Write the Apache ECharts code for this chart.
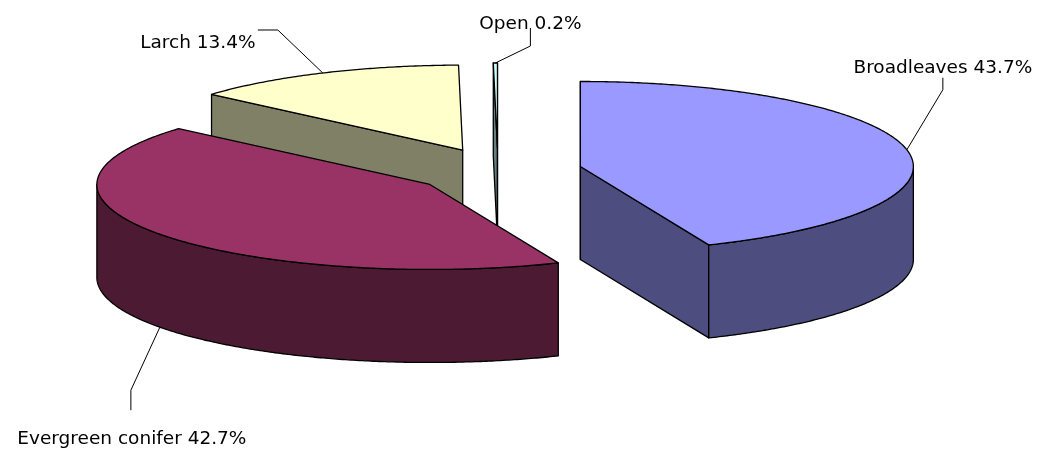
<!DOCTYPE html>
<html>
<head>
<meta charset="utf-8">
<script src="https://cdn.jsdelivr.net/npm/echarts@6/dist/echarts.min.js"></script>
<style>
html,body{margin:0;padding:0;background:#fff;}
#chart{width:1040px;height:452px;}
</style>
</head>
<body>
<div id="chart"></div>
<script>
// ---- data ----
const categories = ['Broadleaves', 'Evergreen conifer', 'Larch', 'Open'];
const shares = [43.7, 42.7, 13.4, 0.2];

// ---- styles ----
const topColors = ['#9999FF', '#993366', '#FFFFCC', '#CCFFFF'];
const sideColors = ['#4D4D80', '#4D1A33', '#808066', '#668080'];

// ---- layout (pixels) ----
const G = { cx: 498, cy: 171, rx: 333, ry: 85, depth: 93, ex: 84, ey: 23 };
// leader line: elbow offset from anchor, end offset from elbow, text offset from end
const labelLayout = [
  { elbow: [36, -60], end: [0, -12], text: [0, -10], align: 'center' },
  { elbow: [-29, 63], end: [0, 20], text: [1, 29], align: 'center' },
  { elbow: [-45, -43], end: [-20, 0], text: [-60, 13], align: 'center' },
  { elbow: [35, -17], end: [0, -18], text: [0, -4], align: 'center' }
];
const FONT = '18.5px "DejaVu Sans", Verdana, sans-serif';

const total = shares.reduce((a, b) => a + b, 0);

function geom(i) {
  let before = 0;
  for (let k = 0; k < i; k++) before += shares[k];
  const s = before / total * Math.PI * 2;
  const e = (before + shares[i]) / total * Math.PI * 2;
  const m = (s + e) / 2;
  const cx = G.cx + G.ex * Math.sin(m);
  const cy = G.cy - G.ey * Math.cos(m);
  return { s, e, m, cx, cy };
}

const geoms = shares.map((_, i) => geom(i));
const order = geoms.map((g, i) => i).sort((a, b) => geoms[a].cy - geoms[b].cy);
const rankOf = [];
order.forEach((idx, r) => { rankOf[idx] = r; });

function renderItem(params, api) {
  const i = params.dataIndex;
  const g = geoms[i];
  const P = (a, dz) => [g.cx + G.rx * Math.sin(a), g.cy - G.ry * Math.cos(a) + (dz || 0)];
  const arc = (a0, a1, dz) => {
    const n = Math.max(2, Math.ceil((a1 - a0) / (Math.PI / 360)));
    const pts = [];
    for (let k = 0; k <= n; k++) pts.push(P(a0 + (a1 - a0) * k / n, dz));
    return pts;
  };
  const C = [g.cx, g.cy], Cd = [g.cx, g.cy + G.depth];
  const base = rankOf[i] * 10;
  const lineStyle = { stroke: '#000', lineWidth: 1.3, lineJoin: 'round' };
  const children = [];
  // cut faces (only those facing the viewer)
  const startVis = Math.sin(g.s) <= 1e-6;
  const endVis = Math.sin(g.e) >= -1e-6;
  const sFace = [C, P(g.s), P(g.s, G.depth), Cd];
  const eFace = [C, P(g.e), P(g.e, G.depth), Cd];
  if (startVis) children.push({ type: 'polygon', z2: base + 2, shape: { points: sFace }, style: Object.assign({ fill: sideColors[i] }, lineStyle) });
  if (endVis) children.push({ type: 'polygon', z2: base + 2, shape: { points: eFace }, style: Object.assign({ fill: sideColors[i] }, lineStyle) });
  // rim (front half only)
  const a0 = Math.max(g.s, Math.PI / 2), a1 = Math.min(g.e, Math.PI * 1.5);
  if (a1 > a0) {
    const pts = arc(a0, a1, 0).concat(arc(a0, a1, G.depth).reverse());
    children.push({ type: 'polygon', z2: base + 3, shape: { points: pts }, style: Object.assign({ fill: sideColors[i] }, lineStyle) });
  }
  // top face
  const topPts = [C].concat(arc(g.s, g.e, 0));
  children.push({ type: 'polygon', z2: base + 4, shape: { points: topPts }, style: Object.assign({ fill: topColors[i] }, lineStyle) });

  // label + leader
  const front = Math.cos(g.m) < 0;
  const A = P(g.m, front ? G.depth : 0);
  const L = labelLayout[i];
  const El = [A[0] + L.elbow[0], A[1] + L.elbow[1]];
  const En = [El[0] + L.end[0], El[1] + L.end[1]];
  children.push({ type: 'polyline', z2: 1000, shape: { points: [A, El, En] }, style: { stroke: '#000', lineWidth: 1, fill: null } });
  children.push({
    type: 'text', z2: 1001,
    style: {
      text: categories[i] + ' ' + api.value(0).toFixed(1) + '%',
      x: En[0] + L.text[0], y: En[1] + L.text[1],
      align: L.align, verticalAlign: 'middle',
      font: FONT, fill: '#000'
    }
  });
  return { type: 'group', children };
}

const chart = echarts.init(document.getElementById('chart'), null, { renderer: 'canvas' });
chart.setOption({
  animation: false,
  backgroundColor: '#fff',
  series: [{
    type: 'custom',
    coordinateSystem: 'none',
    renderItem: renderItem,
    data: shares.map((v, i) => ({ name: categories[i], value: [v] }))
  }]
});
</script>
</body>
</html>
